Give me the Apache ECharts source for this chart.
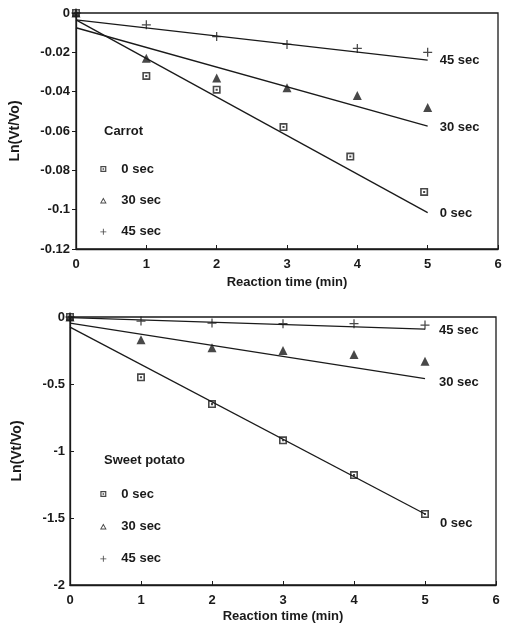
<!DOCTYPE html>
<html>
<head>
<meta charset="utf-8">
<script src="https://cdn.jsdelivr.net/npm/echarts@6/dist/echarts.min.js"></script>
<style>html,body{margin:0;padding:0;background:#fff;}#c{width:508px;height:628px;}</style>
</head>
<body>
<div id="c"></div>
<script>
// ---- Data ----
const xLabelName = 'Reaction time (min)';
const yLabelName = 'Ln(Vt/Vo)';
const groupNames = ['0 sec', '30 sec', '45 sec'];

// Carrot (top panel)
const carrotX0 = [0, 1, 2, 2.95, 3.9, 4.95];
const carrot0 = [0, -0.032, -0.039, -0.058, -0.073, -0.091];
const carrotX = [0, 1, 2, 3, 4, 5];
const carrot30 = [0, -0.023, -0.033, -0.038, -0.042, -0.048];
const carrot45 = [0, -0.006, -0.012, -0.016, -0.018, -0.020];
const fitX = [0, 5];
const carrotFit0 = [-0.0035, -0.1015];
const carrotFit30 = [-0.0075, -0.0575];
const carrotFit45 = [-0.0035, -0.024];

// Sweet potato (bottom panel)
const potatoX = [0, 1, 2, 3, 4, 5];
const potato0 = [0, -0.45, -0.65, -0.92, -1.18, -1.47];
const potato30 = [0, -0.17, -0.23, -0.25, -0.28, -0.33];
const potato45 = [0, -0.03, -0.045, -0.05, -0.05, -0.06];
const potatoFit0 = [-0.075, -1.47];
const potatoFit30 = [-0.045, -0.46];
const potatoFit45 = [-0.005, -0.09];

// axis ranges
const xRange = [0, 6, 1];
const carrotY = [-0.12, 0, 0.02];
const potatoY = [-2, 0, 0.5];

// ---- Styling ----
const INK = '#1a1a1a';
const FONT = 'Liberation Sans, Arial, sans-serif';
const sqPath = 'path://M0,0H10V10H0Z M2,2V8H8V2Z M3.7,3.7H6.3V6.3H3.7Z';
const triPath = 'triangle';
const triOutline = 'path://M5,0L10,9H0Z M5,3.2L2.3,7.6H7.7Z';
const plusPath = 'path://M4.3,0H5.7V4.3H10V5.7H5.7V10H4.3V5.7H0V4.3H4.3Z';

const zip = (xs, ys) => xs.map((x, i) => [x, ys[i]]);
const txt = {fontFamily: FONT, fontWeight: 'bold', fontSize: 13, color: INK};

function scatter(name, idx, xs, ys, symbol, size) {
  return {
    type: 'scatter', name: name, xAxisIndex: idx, yAxisIndex: idx,
    data: zip(xs, ys), symbol: symbol, symbolSize: size, clip: false,
    itemStyle: {color: INK}, z: 5, silent: true
  };
}
function fit(name, idx, ys, label, offset) {
  return {
    type: 'line', name: name, xAxisIndex: idx, yAxisIndex: idx,
    data: zip(fitX, ys), showSymbol: false, symbol: 'none',
    lineStyle: {color: INK, width: 1.3}, silent: true, animation: false,
    endLabel: {show: true, formatter: label, distance: 12, offset: offset,
      fontFamily: FONT, fontWeight: 'bold', fontSize: 13, color: INK}
  };
}
function xAxis(idx, nameGap) {
  return {
    gridIndex: idx, type: 'value', min: xRange[0], max: xRange[1], interval: xRange[2],
    name: xLabelName, nameLocation: 'middle', nameGap: nameGap, nameTextStyle: txt,
    axisLine: {show: true, onZero: false, lineStyle: {color: INK, width: 1.3}},
    axisTick: {show: true, inside: true, length: 4, lineStyle: {color: INK}},
    axisLabel: Object.assign({margin: 9}, txt),
    splitLine: {show: false}
  };
}
function yAxis(idx, r, nameGap, tickInside, margin) {
  return {
    gridIndex: idx, type: 'value', min: r[0], max: r[1], interval: r[2],
    name: yLabelName, nameLocation: 'middle', nameGap: nameGap,
    nameTextStyle: Object.assign({}, txt, {fontSize: 14}),
    axisLine: {show: true, onZero: false, lineStyle: {color: INK, width: 1.3}},
    axisTick: {show: true, inside: tickInside, length: 4, lineStyle: {color: INK}},
    axisLabel: Object.assign({margin: margin}, txt),
    splitLine: {show: false}
  };
}
const legendMap = {c0: groupNames[0], c30: groupNames[1], c45: groupNames[2],
                   s0: groupNames[0], s30: groupNames[1], s45: groupNames[2]};
function legend(top, gap, names) {
  return {
    orient: 'vertical', left: 100, top: top, itemWidth: 14, itemHeight: 6, itemGap: gap,
    selectedMode: false, padding: 0,
    data: [{name: names[0], icon: sqPath}, {name: names[1], icon: triOutline}, {name: names[2], icon: plusPath}],
    formatter: n => legendMap[n],
    textStyle: Object.assign({}, txt, {lineHeight: 14, padding: [0, 0, 0, 6]})
  };
}

const chart = echarts.init(document.getElementById('c'), null, {renderer: 'canvas'});
chart.setOption({
  animation: false,
  backgroundColor: '#fff',
  grid: [
    {left: 76, top: 13, width: 422, height: 236, show: true, borderColor: INK, borderWidth: 1.3},
    {left: 70, top: 317, width: 426, height: 268, show: true, borderColor: INK, borderWidth: 1.3}
  ],
  title: [
    {text: 'Carrot', left: 104, top: 125, padding: 0, textStyle: txt},
    {text: 'Sweet potato', left: 104, top: 454, padding: 0, textStyle: txt}
  ],
  legend: [legend(162, 17.4, ['c0', 'c30', 'c45']), legend(487, 18.4, ['s0', 's30', 's45'])],
  xAxis: [xAxis(0, 27), xAxis(1, 25)],
  yAxis: [yAxis(0, carrotY, 54, false, 6), yAxis(1, potatoY, 46, true, 5)],
  series: [
    scatter('c0', 0, carrotX0, carrot0, sqPath, 8),
    scatter('c30', 0, carrotX, carrot30, triPath, 9),
    scatter('c45', 0, carrotX, carrot45, plusPath, 9),
    fit('cf0', 0, carrotFit0, groupNames[0], [0, 1]),
    fit('cf30', 0, carrotFit30, groupNames[1], [0, 1]),
    fit('cf45', 0, carrotFit45, groupNames[2], [0, 0]),
    scatter('s0', 1, potatoX, potato0, sqPath, 8),
    scatter('s30', 1, potatoX, potato30, triPath, 9),
    scatter('s45', 1, potatoX, potato45, plusPath, 9),
    fit('sf0', 1, potatoFit0, groupNames[0], [3, 9]),
    fit('sf30', 1, potatoFit30, groupNames[1], [2, 4]),
    fit('sf45', 1, potatoFit45, groupNames[2], [2, 1])
  ]
});
</script>
</body>
</html>
